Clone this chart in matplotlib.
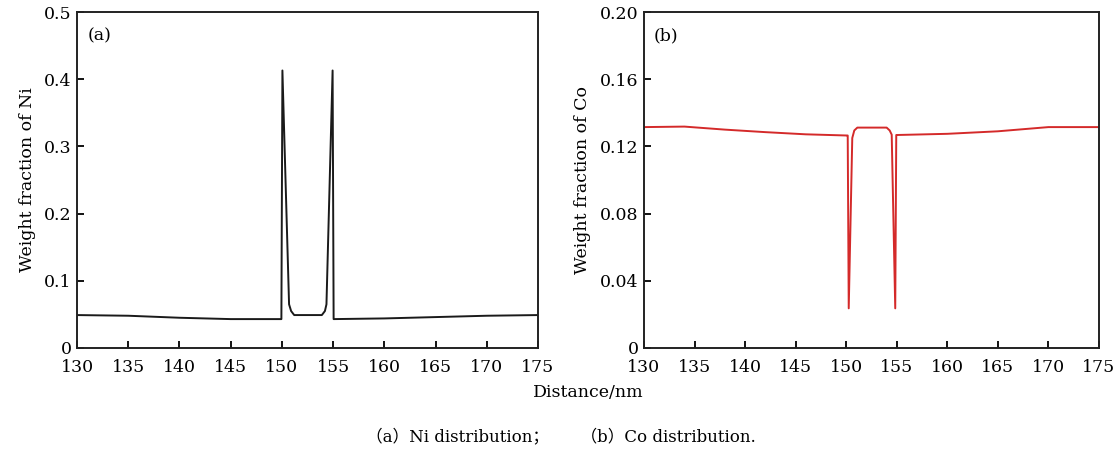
import matplotlib
matplotlib.use("Agg")
import matplotlib.pyplot as plt

# ---- data ----
ni_x = [130, 135, 140, 145, 149.95, 150.05, 150.7, 150.9, 151.2, 153.9, 154.2, 154.35, 154.95, 155.05,
        160, 165, 170, 175]
ni_y = [0.049, 0.048, 0.045, 0.043, 0.043, 0.413, 0.065, 0.055, 0.049, 0.049, 0.055, 0.065, 0.413, 0.043,
        0.044, 0.046, 0.048, 0.049]

co_x = [130, 134, 138, 142, 146, 150.05, 150.15, 150.25, 150.6, 150.8, 151.1, 154.0, 154.3, 154.5,
        154.85, 154.95, 155.05, 160, 165, 170, 175]
co_y = [0.1315, 0.1318, 0.1300, 0.1285, 0.1272, 0.1265, 0.1265, 0.0236, 0.1250, 0.1295, 0.1312, 0.1312,
        0.1295, 0.1270, 0.0236, 0.1268, 0.1268, 0.1275, 0.1290, 0.1315, 0.1315]

x_ticks = [130, 135, 140, 145, 150, 155, 160, 165, 170, 175]
ni_yticks = [0, 0.1, 0.2, 0.3, 0.4, 0.5]
ni_ylabels = ["0", "0.1", "0.2", "0.3", "0.4", "0.5"]
co_yticks = [0, 0.04, 0.08, 0.12, 0.16, 0.20]
co_ylabels = ["0", "0.04", "0.08", "0.12", "0.16", "0.20"]

plt.rcParams['font.family'] = ['DejaVu Serif', 'Noto Sans CJK SC']
plt.rcParams['font.size'] = 12

fig = plt.figure(figsize=(11.18, 4.54), dpi=100)
ax1 = fig.add_axes([0.0689, 0.2335, 0.4123, 0.740])
ax2 = fig.add_axes([0.576, 0.2335, 0.407, 0.740])

ax1.plot(ni_x, ni_y, color="#1a1a1a", lw=1.4)
ax2.plot(co_x, co_y, color="#d42a2a", lw=1.4)

for ax, yt, yl, lab, ylab in [(ax1, ni_yticks, ni_ylabels, "(a)", "Weight fraction of Ni"),
                               (ax2, co_yticks, co_ylabels, "(b)", "Weight fraction of Co")]:
    ax.set_xlim(130, 175)
    ax.set_ylim(yt[0], yt[-1])
    ax.set_xticks(x_ticks)
    ax.set_yticks(yt)
    ax.set_yticklabels(yl)
    ax.tick_params(direction="in", length=5, width=1.3, top=False, right=False, labelsize=12.5)
    ax.tick_params(axis="x", pad=8)
    ax.tick_params(axis="y", pad=4)
    for s in ax.spines.values():
        s.set_linewidth(1.4)
        s.set_color("#222222")
    ax.set_ylabel(ylab, fontsize=12.5, labelpad=6)
    ax.text(0.022, 0.955, lab, transform=ax.transAxes, fontsize=12.5, va="top", ha="left")

fig.text(0.526, 0.135, "Distance/nm", ha="center", va="center", fontsize=12.5)
fig.text(0.502, 0.037, "（a）Ni distribution；      （b）Co distribution.", ha="center", va="center",
         fontsize=12)

fig.savefig("out.png", dpi=100)
